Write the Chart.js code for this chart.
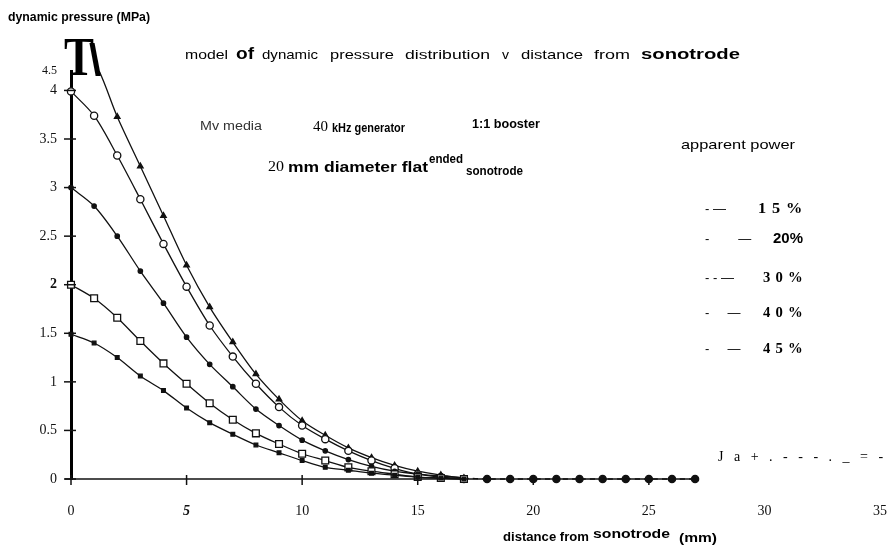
<!DOCTYPE html>
<html>
<head>
<meta charset="utf-8">
<script src="https://cdn.jsdelivr.net/npm/chart.js@4.4.1/dist/chart.umd.min.js"></script>
<style>
  html, body { margin: 0; padding: 0; background: #fff; }
  canvas { display: block; }
</style>
</head>
<body>
<canvas id="chart" width="892" height="546"></canvas>
<script>
// distance from sonotrode (mm), one reading per mm
const distance = [0, 1, 2, 3, 4, 5, 6, 7, 8, 9, 10, 11, 12, 13, 14, 15, 16, 17];
// far field where all curves sit on zero
const tailDistance = [18, 19, 20, 21, 22, 23, 24, 25, 26, 27];
const tailPressure = [0, 0, 0, 0, 0, 0, 0, 0, 0, 0];

// dynamic pressure (MPa) per apparent power setting
const pressure15 = [1.49, 1.40, 1.25, 1.06, 0.91, 0.73, 0.58, 0.46, 0.35, 0.27, 0.19, 0.12, 0.09, 0.06, 0.04, 0.02, 0.01, 0];
const pressure20 = [2.00, 1.86, 1.66, 1.42, 1.19, 0.98, 0.78, 0.61, 0.47, 0.36, 0.26, 0.19, 0.12, 0.08, 0.05, 0.02, 0.01, 0];
const pressure30 = [3.00, 2.81, 2.50, 2.14, 1.81, 1.46, 1.18, 0.95, 0.72, 0.55, 0.40, 0.29, 0.20, 0.13, 0.08, 0.05, 0.03, 0.01];
const pressure40 = [3.99, 3.74, 3.33, 2.88, 2.42, 1.98, 1.58, 1.26, 0.98, 0.74, 0.55, 0.41, 0.29, 0.19, 0.11, 0.05, 0.02, 0];
const pressure45 = [4.50, 4.30, 3.73, 3.22, 2.71, 2.20, 1.77, 1.41, 1.08, 0.82, 0.60, 0.45, 0.32, 0.22, 0.14, 0.08, 0.04, 0.01];

const seriesLabels = ['15%', '20%', '30%', '40%', '45%'];
const legendDashes = ['- \u2014', '-        \u2014', '- - \u2014', '-     \u2014', '-     \u2014'];

const xTicks = [0, 5, 10, 15, 20, 25, 30, 35];
const yTicks = [0, 0.5, 1, 1.5, 2, 2.5, 3, 3.5, 4];
const yTopLabel = '4.5';
const yTop = 4.2;

function points(xs, ys) {
    return xs.map((x, i) => ({ x: x, y: ys[i] }));
}

const serif = '"Liberation Serif", "DejaVu Serif", serif';
const sans = '"Liberation Sans", Arial, sans-serif';

// text squeezed or stretched to the width it has in the scan
function fitText(ctx, str, x, y, font, width) {
    ctx.font = font;
    const w = ctx.measureText(str).width;
    ctx.save();
    ctx.translate(x, y);
    ctx.scale(width ? width / w : 1, 1);
    ctx.fillText(str, 0, 0);
    ctx.restore();
}

// axis line stops where the far field readings stop, ticks cross the axes
const axisMarks = {
    id: 'axisMarks',
    afterDatasetsDraw(chart) {
        const ctx = chart.ctx;
        const xs = chart.scales.x, ys = chart.scales.y;
        const y0 = ys.getPixelForValue(0);
        ctx.save();
        ctx.strokeStyle = '#111';
        ctx.lineWidth = 1.5;
        ctx.beginPath();
        ctx.moveTo(xs.getPixelForValue(0) - 6, y0);
        ctx.lineTo(xs.getPixelForValue(tailDistance[tailDistance.length - 1]), y0);
        ctx.stroke();
        xTicks.filter(v => v <= 25).forEach(v => {
            const px = xs.getPixelForValue(v);
            ctx.beginPath();
            ctx.moveTo(px, y0 - 4);
            ctx.lineTo(px, y0 + 6);
            ctx.stroke();
        });
        yTicks.forEach(v => {
            const py = ys.getPixelForValue(v);
            ctx.beginPath();
            ctx.moveTo(chart.chartArea.left - 7, py);
            ctx.lineTo(chart.chartArea.left + 5, py);
            ctx.stroke();
        });
        ctx.restore();
    }
};

const notes = {
    id: 'notes',
    afterDraw(chart) {
        const ctx = chart.ctx;
        ctx.save();
        ctx.fillStyle = '#000';
        ctx.textBaseline = 'middle';
        ctx.textAlign = 'left';

        // axis titles
        fitText(ctx, 'dynamic pressure (MPa)', 8, 18, 'bold 12px ' + sans, 142);
        fitText(ctx, 'distance from', 503, 537, 'bold 13px ' + sans, 86);
        fitText(ctx, 'sonotrode', 593, 534, 'bold 13px ' + sans, 77);
        fitText(ctx, '(mm)', 679, 539, 'bold 12px ' + sans, 38);

        // scanned marks at the top of the pressure axis
        fitText(ctx, 'T', 64, 61, 'bold 54px ' + serif, 30);
        ctx.font = 'bold 44px ' + sans;
        ctx.fillText('\\', 89, 63);

        // title
        const n = '13px ' + sans;
        const title = [
            ['model', n, 185, 43], ['of', 'bold 16px ' + sans, 236, 18], ['dynamic', n, 262, 56],
            ['pressure', n, 330, 64], ['distribution', n, 405, 85], ['v', n, 502, 7],
            ['distance', n, 521, 62], ['from', n, 594, 36], ['sonotrode', 'bold 15px ' + sans, 641, 99]
        ];
        title.forEach(w => fitText(ctx, w[0], w[2], 55, w[1], w[3]));

        // set-up notes
        ctx.fillStyle = '#333';
        fitText(ctx, 'Mv media', 200, 127, '12px ' + sans, 62);
        ctx.fillStyle = '#000';
        fitText(ctx, '40', 313, 127, '14px ' + serif, 15);
        fitText(ctx, 'kHz generator', 332, 128, 'bold 13px ' + sans, 73);
        fitText(ctx, '1:1 booster', 472, 124, 'bold 13px ' + sans, 68);
        fitText(ctx, '20', 268, 167, '14px ' + serif, 16);
        fitText(ctx, 'mm diameter flat', 288, 168, 'bold 14px ' + sans, 140);
        fitText(ctx, 'ended', 429, 160, 'bold 12px ' + sans, 34);
        fitText(ctx, 'sonotrode', 466, 171, 'bold 13px ' + sans, 57);

        // legend
        fitText(ctx, 'apparent power', 681, 145, '13px ' + sans, 114);
        const rowY = [209, 239, 278, 313, 349];
        seriesLabels.forEach((lab, i) => {
            ctx.font = '13px ' + sans;
            ctx.fillText(legendDashes[i], 705, rowY[i]);
            if (i === 1) {
                fitText(ctx, lab, 773, rowY[i], 'bold 14px ' + sans, 30);
            } else {
                ctx.letterSpacing = '5px';
                fitText(ctx, lab, i === 0 ? 758 : 763, rowY[i], 'bold 14px ' + serif, i === 0 ? 50 : 45);
                ctx.letterSpacing = '0px';
            }
        });

        // stray scan text along the distance axis
        ctx.letterSpacing = '3.5px';
        fitText(ctx, 'J a + . - - - . _ = -', 718, 457, '14px ' + serif, null);
        ctx.letterSpacing = '0px';
        ctx.restore();
    }
};

function dataset(label, data, style, radius, fill) {
    return {
        label: label,
        data: data,
        borderColor: '#111',
        borderWidth: 1.3,
        tension: 0.3,
        pointStyle: style,
        pointRadius: radius,
        pointBackgroundColor: fill,
        pointBorderColor: '#111',
        pointBorderWidth: 1.3,
        clip: { left: 10, top: 0, right: 10, bottom: 10 }
    };
}

const sets = [
    dataset(seriesLabels[0], points(distance, pressure15), 'rect', 2.6, '#111'),
    dataset(seriesLabels[1], points(distance, pressure20), 'rect', 4.8, '#fff'),
    dataset(seriesLabels[2], points(distance.concat(tailDistance), pressure30.concat(tailPressure)), 'circle', 2.2, '#111'),
    dataset(seriesLabels[3], points(distance, pressure40), 'circle', 3.6, '#fff'),
    dataset(seriesLabels[4], points(distance, pressure45), 'triangle', 3.2, '#111')
];
// far field drawn dashed with larger dots
sets[2].pointRadius = ctx => (ctx.raw && ctx.raw.x > 17 ? 3.6 : 2.2);
sets[2].segment = { borderDash: ctx => (ctx.p0.parsed.x >= 17 ? [5, 4] : undefined) };

new Chart(document.getElementById('chart'), {
    type: 'line',
    data: { datasets: sets },
    options: {
        responsive: false,
        animation: false,
        devicePixelRatio: 1,
        layout: { padding: { left: 0, right: 12, top: 71, bottom: 0 } },
        plugins: { legend: { display: false }, tooltip: { enabled: false } },
        scales: {
            x: {
                type: 'linear',
                min: 0,
                max: 35,
                afterFit: s => { s.height = 67; s.paddingLeft = 0; s.paddingRight = 0; },
                afterBuildTicks: s => { s.ticks = xTicks.map(v => ({ value: v })); },
                grid: { display: false, drawTicks: false },
                border: { display: false },
                ticks: {
                    padding: 24,
                    color: '#111',
                    maxRotation: 0,
                    font: c => (c.tick && c.tick.value === 5
                        ? { family: serif, size: 14, weight: 'bold', style: 'italic' }
                        : { family: serif, size: 14 }),
                    callback: v => String(v)
                }
            },
            y: {
                min: 0,
                max: yTop,
                afterFit: s => { s.width = 71; s.paddingTop = 0; s.paddingBottom = 0; },
                afterBuildTicks: s => {
                    s.ticks = yTicks.map(v => ({ value: v })).concat([{ value: yTop }]);
                },
                grid: { display: false, drawTicks: false },
                border: { display: true, color: '#000', width: 3 },
                ticks: {
                    padding: 14,
                    color: '#111',
                    font: c => (c.tick && c.tick.value === 2
                        ? { family: serif, size: 14, weight: 'bold' }
                        : { family: serif, size: c.tick && c.tick.value === yTop ? 12 : 14 }),
                    callback: v => (v === yTop ? yTopLabel : String(v))
                }
            }
        }
    },
    plugins: [axisMarks, notes]
});
</script>
</body>
</html>
